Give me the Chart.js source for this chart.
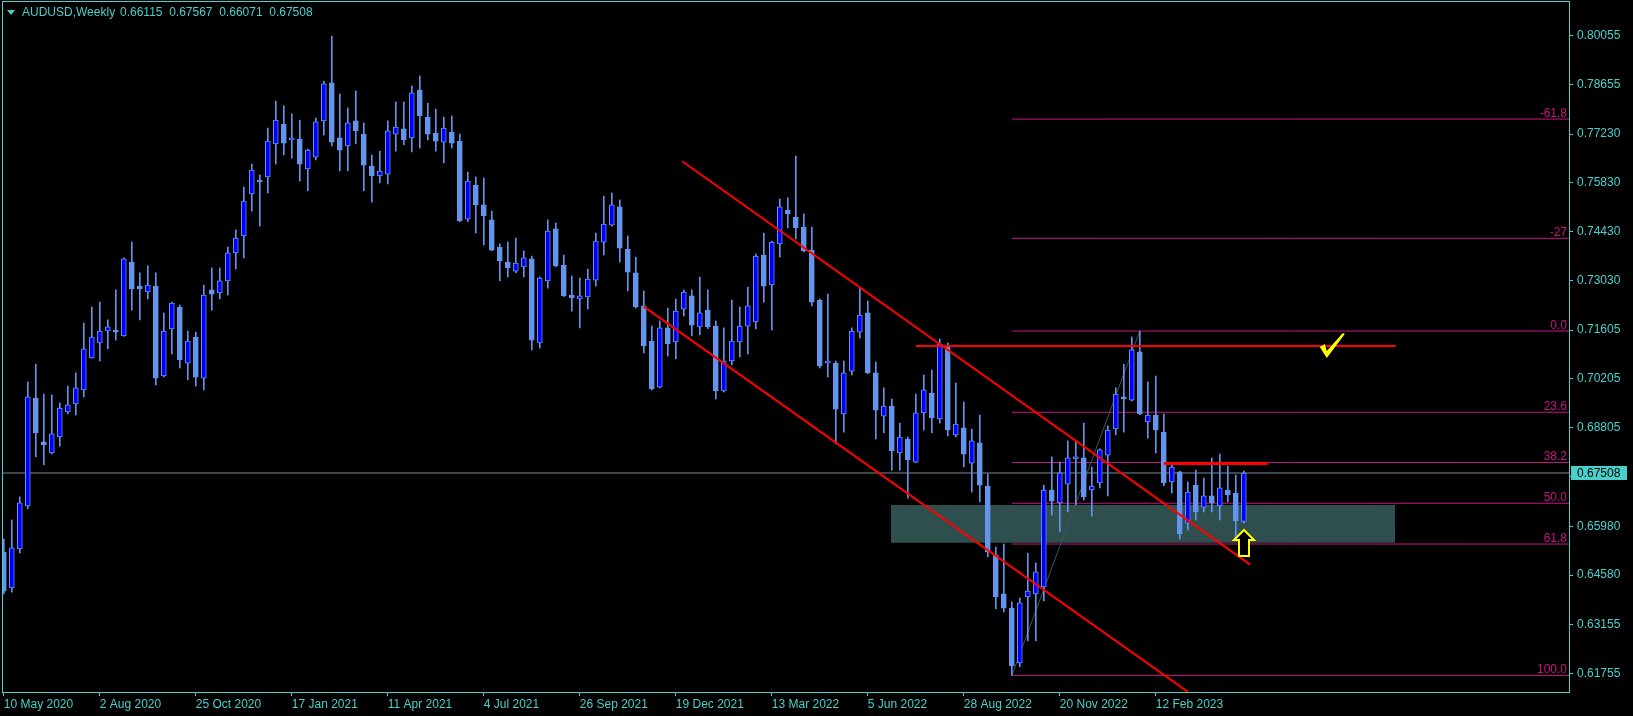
<!DOCTYPE html>
<html>
<head>
<meta charset="utf-8">
<title>AUDUSD Weekly</title>
<script src="https://cdn.jsdelivr.net/npm/chart.js@4.4.0/dist/chart.umd.min.js"></script>
<style>
  html, body { margin: 0; padding: 0; background: #000; }
  #wrap { width: 1633px; height: 716px; }
</style>
</head>
<body>
<div id="wrap"><canvas id="chart" width="1633" height="716"></canvas></div>
<script>
// ==========================================================================
// AUDUSD WEEKLY - CANDLES + DRAWN OBJECTS
// ==========================================================================

const AXIS_COLOR = '#48d1cc';
const BULL_FILL = '#0000ff';
const BEAR_FILL = '#6495ed';
const WICK_COLOR = '#6495ed';
const FIB_COLOR = '#c71585';
const FONT = { family: "'Liberation Sans', Arial, sans-serif", size: 12 };

// One candle per week, first one = week of 10 May 2020
const opens = [
  0.6524, 0.6421, 0.6533, 0.6656, 0.6966, 0.6840, 0.6808, 0.6854, 0.6926, 0.6949,
  0.6989, 0.7081, 0.7124, 0.7158, 0.7161, 0.7144, 0.7356, 0.7287, 0.7270, 0.7287,
  0.7029, 0.7164, 0.7227, 0.7066, 0.7141, 0.7023, 0.7276, 0.7267, 0.7302, 0.7382,
  0.7431, 0.7551, 0.7591, 0.7600, 0.7695, 0.7752, 0.7706, 0.7709, 0.7623, 0.7657,
  0.7761, 0.7870, 0.7712, 0.7689, 0.7761, 0.7723, 0.7631, 0.7603, 0.7608, 0.7723,
  0.7738, 0.7712, 0.7849, 0.7772, 0.7726, 0.7700, 0.7729, 0.7703, 0.7479, 0.7577,
  0.7520, 0.7477, 0.7399, 0.7356, 0.7330, 0.7342, 0.7365, 0.7124, 0.7302, 0.7451,
  0.7347, 0.7261, 0.7250, 0.7256, 0.7304, 0.7413, 0.7462, 0.7514, 0.7393, 0.7325,
  0.7230, 0.7129, 0.6997, 0.7167, 0.7127, 0.7221, 0.7259, 0.7170, 0.7218, 0.7172,
  0.6986, 0.7072, 0.7127, 0.7172, 0.7184, 0.7376, 0.7290, 0.7408, 0.7505, 0.7485,
  0.7456, 0.7390, 0.7247, 0.7066, 0.7066, 0.6920, 0.7043, 0.7155, 0.7210, 0.7038,
  0.6914, 0.6943, 0.6808, 0.6848, 0.6782, 0.6923, 0.6980, 0.6906, 0.7112, 0.6860,
  0.6880, 0.6779, 0.6837, 0.6713, 0.6516, 0.6404, 0.6363, 0.6206, 0.6395, 0.6404,
  0.6424, 0.6702, 0.6665, 0.6719, 0.6791, 0.6794, 0.6702, 0.6722, 0.6802, 0.6877,
  0.6969, 0.6960, 0.7098, 0.6897, 0.6917, 0.6868, 0.6725, 0.6754, 0.6607, 0.6716,
  0.6653, 0.6685, 0.6656, 0.6702, 0.6693, 0.66115
];
const highs = [
  0.6561, 0.6616, 0.6682, 0.7012, 0.7063, 0.6977, 0.6975, 0.6952, 0.7000, 0.7038,
  0.7181, 0.7227, 0.7241, 0.7190, 0.7276, 0.7368, 0.7413, 0.7325, 0.7345, 0.7325,
  0.7210, 0.7241, 0.7233, 0.7158, 0.7155, 0.7290, 0.7339, 0.7339, 0.7399, 0.7448,
  0.7571, 0.7637, 0.7606, 0.7740, 0.7818, 0.7804, 0.7781, 0.7763, 0.7680, 0.7769,
  0.7875, 0.8004, 0.7838, 0.7798, 0.7847, 0.7755, 0.7663, 0.7674, 0.7761, 0.7815,
  0.7815, 0.7861, 0.7890, 0.7812, 0.7795, 0.7772, 0.7775, 0.7723, 0.7614, 0.7600,
  0.7597, 0.7502, 0.7408, 0.7413, 0.7425, 0.7388, 0.7373, 0.7313, 0.7477, 0.7468,
  0.7376, 0.7316, 0.7310, 0.7336, 0.7439, 0.7545, 0.7554, 0.7534, 0.7431, 0.7370,
  0.7273, 0.7172, 0.7187, 0.7224, 0.7250, 0.7276, 0.7276, 0.7313, 0.7276, 0.7187,
  0.7167, 0.7247, 0.7227, 0.7284, 0.7379, 0.7439, 0.7416, 0.7537, 0.7540, 0.7660,
  0.7494, 0.7456, 0.7250, 0.7264, 0.7072, 0.7072, 0.7167, 0.7281, 0.7244, 0.7069,
  0.6995, 0.6963, 0.6894, 0.6854, 0.6977, 0.7032, 0.7046, 0.7135, 0.7124, 0.7009,
  0.6954, 0.6877, 0.6917, 0.6748, 0.6538, 0.6547, 0.6381, 0.6392, 0.6521, 0.6493,
  0.6716, 0.6797, 0.6782, 0.6843, 0.6843, 0.6894, 0.6768, 0.6820, 0.6886, 0.6995,
  0.7063, 0.7141, 0.7158, 0.7012, 0.7029, 0.6920, 0.6779, 0.6756, 0.6725, 0.6759,
  0.6736, 0.6794, 0.6805, 0.6771, 0.6745, 0.67567
];
const lows = [
  0.6404, 0.6409, 0.6521, 0.6648, 0.6797, 0.6774, 0.6805, 0.6828, 0.6920, 0.6917,
  0.6969, 0.7080, 0.7072, 0.7107, 0.7132, 0.7143, 0.7218, 0.7190, 0.7250, 0.7003,
  0.7026, 0.7092, 0.7052, 0.7018, 0.7000, 0.6989, 0.7218, 0.7250, 0.7261, 0.7336,
  0.7368, 0.7502, 0.7459, 0.7554, 0.7637, 0.7663, 0.7654, 0.7588, 0.7560, 0.7649,
  0.7720, 0.7689, 0.7617, 0.7617, 0.7695, 0.7560, 0.7528, 0.7583, 0.7580, 0.7674,
  0.7692, 0.7672, 0.7683, 0.7706, 0.7674, 0.7640, 0.7683, 0.7472, 0.7472, 0.7439,
  0.7405, 0.7388, 0.7302, 0.7313, 0.7325, 0.7313, 0.7104, 0.7109, 0.7281, 0.7342,
  0.7257, 0.7215, 0.7167, 0.7221, 0.7287, 0.7376, 0.7459, 0.7356, 0.7273, 0.7224,
  0.7095, 0.6989, 0.6995, 0.7086, 0.7078, 0.7201, 0.7144, 0.7147, 0.7165, 0.6963,
  0.6983, 0.7061, 0.7084, 0.7092, 0.7164, 0.7241, 0.7161, 0.7370, 0.7454, 0.7422,
  0.7385, 0.7230, 0.7052, 0.7026, 0.6834, 0.6868, 0.7032, 0.7138, 0.7036, 0.6848,
  0.6866, 0.6759, 0.6759, 0.6679, 0.6780, 0.6874, 0.6866, 0.6894, 0.6857, 0.6854,
  0.6768, 0.6696, 0.6668, 0.6510, 0.6361, 0.6352, 0.6170, 0.6195, 0.6269, 0.6269,
  0.6384, 0.6630, 0.6582, 0.6639, 0.6659, 0.6673, 0.6627, 0.6708, 0.6685, 0.6860,
  0.6868, 0.6957, 0.6918, 0.6851, 0.6808, 0.6714, 0.6693, 0.6561, 0.6587, 0.6616,
  0.6639, 0.6639, 0.6616, 0.6668, 0.6567, 0.66071
];
const closes = [
  0.6412, 0.6536, 0.6665, 0.6969, 0.6866, 0.6831, 0.6863, 0.6937, 0.6946, 0.6995,
  0.7107, 0.7141, 0.7158, 0.7170, 0.7155, 0.7365, 0.7279, 0.7279, 0.7290, 0.7023,
  0.7158, 0.7238, 0.7075, 0.7129, 0.7026, 0.7261, 0.7264, 0.7302, 0.7382, 0.7425,
  0.7531, 0.7620, 0.7586, 0.7703, 0.7763, 0.7697, 0.7712, 0.7637, 0.7677, 0.7758,
  0.7867, 0.7700, 0.7677, 0.7755, 0.7732, 0.7634, 0.7603, 0.7617, 0.7732, 0.7743,
  0.7706, 0.7841, 0.7775, 0.7723, 0.7703, 0.7740, 0.7697, 0.7474, 0.7588, 0.7520,
  0.7488, 0.7390, 0.7359, 0.7339, 0.7353, 0.7368, 0.7132, 0.7310, 0.7445, 0.7345,
  0.7259, 0.7253, 0.7259, 0.7307, 0.7416, 0.7465, 0.7520, 0.7396, 0.7327, 0.7227,
  0.7115, 0.6992, 0.7167, 0.7121, 0.7215, 0.7270, 0.7175, 0.7210, 0.7170, 0.6986,
  0.7072, 0.7129, 0.7172, 0.7230, 0.7373, 0.7287, 0.7413, 0.7514, 0.7494, 0.7454,
  0.7388, 0.7241, 0.7058, 0.7072, 0.6934, 0.7038, 0.7158, 0.7204, 0.7038, 0.6931,
  0.6943, 0.6814, 0.6854, 0.6788, 0.6923, 0.6989, 0.6909, 0.7121, 0.6874, 0.6891,
  0.6805, 0.6843, 0.6716, 0.6524, 0.6395, 0.6363, 0.6197, 0.6378, 0.6412, 0.6467,
  0.6702, 0.6670, 0.6751, 0.6794, 0.6797, 0.6682, 0.6713, 0.6817, 0.6874, 0.6977,
  0.6963, 0.7104, 0.6920, 0.6917, 0.6874, 0.6722, 0.6768, 0.6576, 0.6696, 0.6639,
  0.6685, 0.6665, 0.6708, 0.6688, 0.6613, 0.67508
];

// Time axis: a label every 12 weeks
const xTickWeeks = [0, 12, 24, 36, 48, 60, 72, 84, 96, 108, 120, 132, 144];
const xTickLabels = [
  '10 May 2020', '2 Aug 2020', '25 Oct 2020', '17 Jan 2021', '11 Apr 2021',
  '4 Jul 2021', '26 Sep 2021', '19 Dec 2021', '13 Mar 2022', '5 Jun 2022',
  '28 Aug 2022', '20 Nov 2022', '12 Feb 2023'
];

// Price axis labels
const yTickValues = [
  0.80055, 0.78655, 0.77230, 0.75830, 0.74430, 0.73030, 0.71605,
  0.70205, 0.68805, 0.67405, 0.65980, 0.64580, 0.63155, 0.61755
];

// Fibonacci retracement (drawn from the Oct 2022 low)
const fibLabels = ['-61.8', '-27', '0.0', '23.6', '38.2', '50.0', '61.8', '100.0'];
const fibPrices = [0.7766, 0.7424, 0.7158, 0.6925, 0.6781, 0.6664, 0.6547, 0.6170];
const fibStartWeek = 126;
const fibBase = [[126, 0.6170], [142, 0.7158]];

// Channel, levels, zone (week index, price)
const channelUpper = [[84.8, 0.7645], [155.8, 0.6488]];
const channelLower = [[80, 0.7228], [148, 0.6123]];
const resistLong = [[114, 0.7115], [174, 0.7115]];
const resistShort = [[145, 0.6778], [158, 0.6778]];
const zoneWeeks = [110.9, 173.9];
const zonePrices = [0.6551, 0.6659];
const arrowAt = [155, 0.6587];
const checkAt = [166, 0.7115];

const X_MIN = -0.1;
const X_MAX = 195.65;
const Y_MIN = 0.61225;
const Y_MAX = 0.81019;

// --------------------------------------------------------------------------
// Build datasets
// --------------------------------------------------------------------------
const last = opens.length - 1;
const isBull = opens.map((o, i) => closes[i] >= o);

const bodyData = opens.map((o, i) => ({ x: i, y: [o, closes[i]] }));
const wickData = lows.map((l, i) => ({ x: i, y: [l, highs[i]] }));

const toPts = arr => arr.map(p => ({ x: p[0], y: p[1] }));

function lineSet(points, color, width, order, extra) {
  return Object.assign({
    type: 'line',
    data: toPts(points),
    borderColor: color,
    borderWidth: width,
    pointRadius: 0,
    fill: false,
    tension: 0,
    order: order
  }, extra || {});
}

const datasets = [];

// supply / demand zone
datasets.push(lineSet(
  [[zoneWeeks[0], zonePrices[1]], [zoneWeeks[1], zonePrices[1]]],
  'rgba(0,0,0,0)', 0, 30,
  { fill: { value: zonePrices[0] }, backgroundColor: '#2f4f4f' }
));

// current price line
datasets.push(lineSet([[X_MIN, closes[last]], [X_MAX, closes[last]]], '#7a8a96', 1, 29));

// fib levels
fibPrices.forEach(p => {
  datasets.push(lineSet([[fibStartWeek, p], [X_MAX, p]], FIB_COLOR, 1, 28));
});
datasets.push(lineSet(fibBase, '#355858', 1, 27));

// candles
datasets.push({
  type: 'bar',
  data: wickData,
  backgroundColor: WICK_COLOR,
  borderWidth: 0,
  barThickness: 1,
  grouped: false,
  order: 11
});
datasets.push({
  type: 'bar',
  data: bodyData,
  backgroundColor: isBull.map(b => (b ? BULL_FILL : BEAR_FILL)),
  borderColor: WICK_COLOR,
  borderWidth: 1,
  borderSkipped: false,
  barThickness: 5,
  minBarLength: 1,
  grouped: false,
  order: 10
});

// red trend lines
datasets.push(lineSet(channelUpper, '#ff0000', 2, 3));
datasets.push(lineSet(channelLower, '#ff0000', 2, 3));
datasets.push(lineSet(resistLong, '#ff0000', 2, 2));
datasets.push(lineSet(resistShort, '#ff0000', 3, 2));

// --------------------------------------------------------------------------
// Extra drawing: frame, fib labels, header, price tag, arrow, check mark
// --------------------------------------------------------------------------
const overlayPlugin = {
  id: 'overlay',
  afterDatasetsDraw(chart) {
    const { ctx, chartArea: ca, scales } = chart;
    const xs = scales.x;
    const ys = scales.y;

    ctx.save();
    ctx.beginPath();
    ctx.rect(ca.left, ca.top, ca.width, ca.height);
    ctx.clip();

    // fib labels
    ctx.font = `${FONT.size}px ${FONT.family}`;
    ctx.fillStyle = FIB_COLOR;
    ctx.textAlign = 'right';
    ctx.textBaseline = 'alphabetic';
    fibPrices.forEach((p, i) => {
      ctx.fillText(fibLabels[i], ca.right - 2, Math.round(ys.getPixelForValue(p)) - 2);
    });

    // up arrow
    const ax = Math.round(xs.getPixelForValue(arrowAt[0]));
    const ay = Math.round(ys.getPixelForValue(arrowAt[1]));
    ctx.beginPath();
    ctx.moveTo(ax, ay);
    ctx.lineTo(ax + 10, ay + 10);
    ctx.lineTo(ax + 5, ay + 10);
    ctx.lineTo(ax + 5, ay + 26);
    ctx.lineTo(ax - 5, ay + 26);
    ctx.lineTo(ax - 5, ay + 10);
    ctx.lineTo(ax - 10, ay + 10);
    ctx.closePath();
    ctx.fillStyle = '#000';
    ctx.fill();
    ctx.lineWidth = 2;
    ctx.strokeStyle = '#ffff00';
    ctx.stroke();

    // check mark
    const cx = xs.getPixelForValue(checkAt[0]);
    const cy = ys.getPixelForValue(checkAt[1]);
    ctx.beginPath();
    ctx.moveTo(cx - 12, cy + 1);
    ctx.lineTo(cx - 7, cy - 2);
    ctx.lineTo(cx - 5, cy + 5);
    ctx.lineTo(cx + 11, cy - 13);
    ctx.lineTo(cx + 13, cy - 12);
    ctx.lineTo(cx - 5, cy + 12);
    ctx.closePath();
    ctx.fillStyle = '#ffff00';
    ctx.fill();
    ctx.restore();

    // frame
    ctx.save();
    ctx.strokeStyle = AXIS_COLOR;
    ctx.lineWidth = 1;
    ctx.strokeRect(ca.left - 0.5, ca.top - 0.5, ca.width + 1, ca.height + 1);

    // header
    ctx.fillStyle = AXIS_COLOR;
    ctx.beginPath();
    ctx.moveTo(7, 10);
    ctx.lineTo(15, 10);
    ctx.lineTo(11, 15);
    ctx.closePath();
    ctx.fill();
    ctx.font = `${FONT.size}px ${FONT.family}`;
    ctx.textAlign = 'left';
    ctx.textBaseline = 'middle';
    const ohlc = [opens[last], highs[last], lows[last], closes[last]].map(v => v.toFixed(5));
    ctx.fillText('AUDUSD,Weekly', 22, 13);
    ctx.fillText(ohlc.join('  '), 120, 13);

    // price tag
    const py = Math.round(ys.getPixelForValue(closes[last]));
    ctx.fillStyle = AXIS_COLOR;
    ctx.fillRect(ca.right + 2, py - 7, 56, 14);
    ctx.fillStyle = '#000';
    ctx.fillText(closes[last].toFixed(5), ca.right + 8, py + 0.5);
    ctx.restore();
  }
};

// --------------------------------------------------------------------------
// Chart
// --------------------------------------------------------------------------
const ctx = document.getElementById('chart').getContext('2d');

new Chart(ctx, {
  type: 'bar',
  data: { datasets: datasets },
  options: {
    responsive: false,
    devicePixelRatio: 1,
    animation: false,
    events: [],
    layout: { padding: { left: 3, top: 2, right: 0, bottom: 0 } },
    plugins: {
      legend: { display: false },
      tooltip: { enabled: false }
    },
    scales: {
      x: {
        type: 'linear',
        min: X_MIN,
        max: X_MAX,
        offset: false,
        grid: { drawOnChartArea: false, tickLength: 4, color: AXIS_COLOR, offset: false },
        border: { display: true, color: AXIS_COLOR },
        ticks: {
          color: AXIS_COLOR,
          font: FONT,
          autoSkip: false,
          maxRotation: 0,
          align: 'start',
          padding: 1,
          callback: (v, i) => xTickLabels[i]
        },
        afterBuildTicks: s => { s.ticks = xTickWeeks.map(v => ({ value: v })); },
        afterFit: s => { s.height = 24; s.paddingLeft = 0; s.paddingRight = 0; }
      },
      y: {
        type: 'linear',
        position: 'right',
        min: Y_MIN,
        max: Y_MAX,
        grid: { drawOnChartArea: false, tickLength: 4, color: AXIS_COLOR },
        border: { display: true, color: AXIS_COLOR },
        ticks: {
          color: AXIS_COLOR,
          font: FONT,
          padding: 4,
          callback: v => v.toFixed(5)
        },
        afterBuildTicks: s => { s.ticks = yTickValues.map(v => ({ value: v })); },
        afterFit: s => { s.width = 64; s.paddingTop = 0; s.paddingBottom = 0; }
      }
    }
  },
  plugins: [overlayPlugin]
});
</script>
</body>
</html>
